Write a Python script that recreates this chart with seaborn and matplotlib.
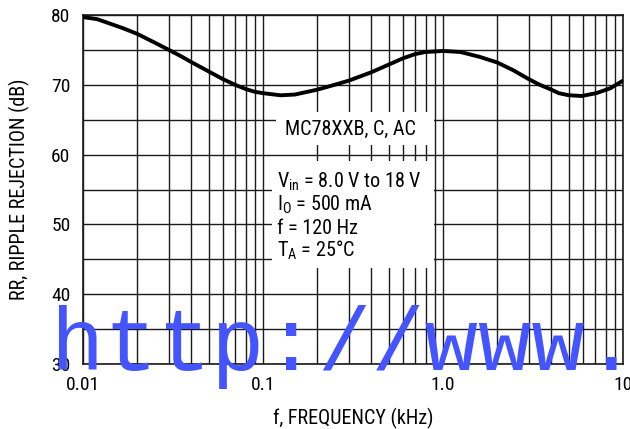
import matplotlib
matplotlib.use("Agg")
import matplotlib.pyplot as plt
from matplotlib import font_manager
from matplotlib.ticker import FixedLocator, LogLocator, NullFormatter
from matplotlib.patches import Rectangle
import seaborn as sns
import pandas as pd

# ---- data ----
freq_khz = [0.01, 0.012, 0.014, 0.0167, 0.02, 0.025, 0.03, 0.035, 0.04, 0.05,
            0.06, 0.07, 0.08, 0.09, 0.1, 0.125, 0.15, 0.2, 0.25, 0.3, 0.4,
            0.5, 0.6, 0.7, 0.8, 1.0, 1.25, 1.6, 2.0, 2.45, 3.0, 3.45, 4.0,
            4.4, 5.0, 5.9, 7.1, 8.5, 10.0]
rr_db = [79.7, 79.4, 78.8, 78.1, 77.3, 76.05, 75.0, 74.1, 73.25, 71.9,
         70.8, 70.0, 69.4, 69.0, 68.8, 68.5, 68.6, 69.3, 70.0, 70.6, 71.8,
         72.9, 73.8, 74.4, 74.7, 74.85, 74.7, 74.0, 73.2, 72.1, 70.8, 70.0, 69.3,
         68.8, 68.5, 68.4, 68.8, 69.5, 70.6]
x_ticks = [0.01, 0.1, 1.0, 10]
x_tick_labels = ["0.01", "0.1", "1.0", "10"]
y_ticks = [30, 40, 50, 60, 70, 80]
y_minor = [35, 45, 55, 65, 75]
device_label = "MC78XXB, C, AC"
cond_lines = [r"V$_{\mathrm{in}}$ = 8.0 V to 18 V",
              r"I$_{\mathrm{O}}$ = 500 mA",
              "f = 120 Hz",
              r"T$_{\mathrm{A}}$ = 25°C"]
x_label = "f, FREQUENCY (kHz)"
y_label = "RR, RIPPLE REJECTION (dB)"
watermark = "http://www."

sns.set_theme(style="white")
avail = {f.name for f in font_manager.fontManager.ttflist}
fam = "Liberation Sans"
for cand in ["Liberation Sans Narrow", "Roboto Condensed", "Noto Sans Condensed"]:
    if cand in avail:
        fam = cand
        break
narrow = fam != "Liberation Sans"
plt.rcParams["font.family"] = [fam, "DejaVu Sans"]
plt.rcParams["mathtext.fontset"] = "custom"
plt.rcParams["mathtext.rm"] = fam
plt.rcParams["mathtext.it"] = fam
plt.rcParams["mathtext.default"] = "rm"

tick_fs = 14 if narrow else 12.5
box_fs = 14.5 if narrow else 12.8
lab_fs = 14.5 if narrow else 13.5

df = pd.DataFrame({"f": freq_khz, "rr": rr_db})

fig = plt.figure(figsize=(6.3, 4.29), dpi=100)
ax = fig.add_axes([83 / 630, 1 - 364 / 429, 540 / 630, 349 / 429])

sns.lineplot(data=df, x="f", y="rr", ax=ax, color="black", linewidth=2.8,
             zorder=3)
ax.lines[-1].set_solid_capstyle("round")
ax.lines[-1].set_solid_joinstyle("round")

ax.set_xscale("log")
ax.set_xlim(0.01, 10)
ax.set_ylim(30, 80)
ax.xaxis.set_major_locator(FixedLocator(x_ticks))
ax.set_xticklabels(x_tick_labels)
ax.xaxis.set_minor_locator(LogLocator(base=10, subs=range(2, 10)))
ax.xaxis.set_minor_formatter(NullFormatter())
ax.yaxis.set_major_locator(FixedLocator(y_ticks))
ax.yaxis.set_minor_locator(FixedLocator(y_minor))
ax.set_yticklabels([str(v) for v in y_ticks])

ax.grid(True, which="both", color="#1a1a1a", linewidth=1.0, zorder=1)
ax.set_axisbelow(True)
for s in ax.spines.values():
    s.set_color("#1a1a1a")
    s.set_linewidth(1.2)
ax.tick_params(axis="both", which="both", length=0, labelsize=tick_fs,
               colors="black", pad=9)

ax.set_xlabel(x_label, fontsize=lab_fs, color="black", labelpad=10)
ax.set_ylabel(y_label, fontsize=lab_fs, color="black", labelpad=15)


def px_to_ax(x, y):
    return (x - 83) / 540, (364 - y) / 349


# white boxes covering the grid
for (x0, y0, x1, y1) in [(276, 112, 434, 145), (272, 161, 434, 268)]:
    ax0, ay1 = px_to_ax(x0, y0)
    ax1, ay0 = px_to_ax(x1, y1)
    ax.add_patch(Rectangle((ax0, ay0), ax1 - ax0, ay1 - ay0,
                           transform=ax.transAxes, facecolor="white",
                           edgecolor="none", zorder=2))

tx, ty = px_to_ax(350, 129)
ax.text(tx, ty, device_label, transform=ax.transAxes, ha="center",
        va="center", fontsize=box_fs, color="black", zorder=4)
for i, line in enumerate(cond_lines):
    lx, ly = px_to_ax(277, 188 + i * 23)
    ax.text(lx, ly, line, transform=ax.transAxes, ha="left", va="baseline",
            fontsize=box_fs, color="black", zorder=4)

fig.text(345 / 630, 1 - 370 / 429, watermark, ha="center", va="baseline",
         fontsize=64, family=["Liberation Mono", "DejaVu Sans Mono"],
         color="#4455ff", zorder=10)

fig.savefig("out.png", dpi=100)
